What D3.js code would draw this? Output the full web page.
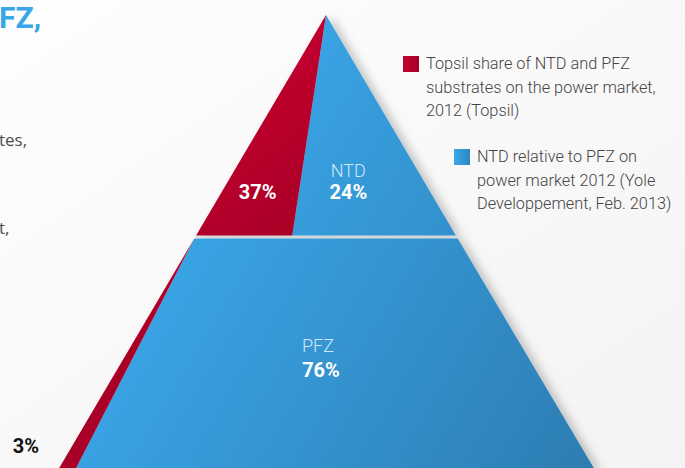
<!DOCTYPE html>
<html>
<head>
<meta charset="utf-8">
<script src="https://cdn.jsdelivr.net/npm/d3@7"></script>
<style>
  html, body { margin: 0; padding: 0; background: #f6f6f6; }
  svg { display: block; }
</style>
</head>
<body>
<div id="chart"></div>
<script>
// market split (share of power market) and Topsil share inside each part
const sections = ['NTD', 'PFZ'];
const marketShare = [24, 76];
const topsilShare = [37, 3];
const legendRed = ['Topsil share of NTD and PFZ', 'substrates on the power market,', '2012 (Topsil)'];
const legendBlue = ['NTD relative to PFZ on', 'power market 2012 (Yole', 'Developpement, Feb. 2013)'];
const sideText = ['FZ,', 'tes,', 't,'];

const W = 685, H = 468;
const apex = {x: 326, y: 15};
const gap = 3;

const svg = d3.select('#chart')
  .append('svg')
  .attr('width', W)
  .attr('height', H);

const defs = svg.append('defs');

const bg = defs.append('linearGradient')
  .attr('id', 'bg').attr('x1', 0).attr('y1', 0).attr('x2', 1).attr('y2', 1);
bg.append('stop').attr('offset', 0).attr('stop-color', '#fefefe');
bg.append('stop').attr('offset', 1).attr('stop-color', '#f3f3f3');

const blue = defs.append('linearGradient')
  .attr('id', 'blue').attr('gradientUnits', 'userSpaceOnUse')
  .attr('x1', 150).attr('y1', 200).attr('x2', 600).attr('y2', 468);
blue.append('stop').attr('offset', 0).attr('stop-color', '#3aa8ea');
blue.append('stop').attr('offset', 1).attr('stop-color', '#2d7cb1');

const red = defs.append('linearGradient')
  .attr('id', 'red').attr('gradientUnits', 'userSpaceOnUse')
  .attr('x1', 190).attr('y1', 100).attr('x2', 300).attr('y2', 240);
red.append('stop').attr('offset', 0).attr('stop-color', '#c4002f');
red.append('stop').attr('offset', 1).attr('stop-color', '#a80027');

const redLegend = defs.append('linearGradient').attr('id', 'redL');
redLegend.append('stop').attr('offset', 0).attr('stop-color', '#c4002f');
redLegend.append('stop').attr('offset', 1).attr('stop-color', '#a30026');
const blueLegend = defs.append('linearGradient').attr('id', 'blueL');
blueLegend.append('stop').attr('offset', 0).attr('stop-color', '#3aa8ea');
blueLegend.append('stop').attr('offset', 1).attr('stop-color', '#2f85c0');

const shadow = defs.append('filter').attr('id', 'shadow')
  .attr('x', '-20%').attr('y', '-20%').attr('width', '140%').attr('height', '140%');
shadow.append('feDropShadow')
  .attr('dx', 6).attr('dy', 2).attr('stdDeviation', 5)
  .attr('flood-color', '#000').attr('flood-opacity', 0.22);

svg.append('rect').attr('width', W).attr('height', H).attr('fill', 'url(#bg)');

// y position of cumulative share, area-true (sqrt) from the apex
const y = d3.scaleSqrt().domain([0, 100]).range([apex.y, 468]);
// half width of the pyramid at a given y
const half = d3.scaleLinear().domain([apex.y, 468]).range([0, 267]);
const xl = yy => apex.x - half(yy);
const xr = yy => apex.x + half(yy);

const cum = d3.cumsum(marketShare);
const yDiv = y(cum[0]);
const yTop = yDiv - gap / 2, yBot = yDiv + gap / 2, yBase = y(cum[1]);

const line = d3.line();
const pyr = svg.append('g').attr('filter', 'url(#shadow)');

// NTD (top triangle)
const sTop = xl(yTop) + topsilShare[0] / 100 * (xr(yTop) - xl(yTop));
pyr.append('path')
  .attr('d', line([[apex.x, apex.y], [sTop, yTop], [xr(yTop), yTop]]) + 'Z')
  .attr('fill', 'url(#blue)');
pyr.append('path')
  .attr('d', line([[apex.x, apex.y], [xl(yTop), yTop], [sTop, yTop]]) + 'Z')
  .attr('fill', 'url(#red)');

// PFZ (lower trapezoid)
const sBot = xl(yBase) + topsilShare[1] / 100 * (xr(yBase) - xl(yBase));
pyr.append('path')
  .attr('d', line([[xl(yBot), yBot], [xr(yBot), yBot], [xr(yBase) + 2, yBase + 2], [sBot, yBase + 2]]) + 'Z')
  .attr('fill', 'url(#blue)');
pyr.append('path')
  .attr('d', line([[xl(yBot), yBot], [sBot, yBase + 2], [xl(yBase) - 1, yBase + 2]]) + 'Z')
  .attr('fill', 'url(#red)');

svg.append('line')
  .attr('x1', xl(yDiv)).attr('x2', xr(yDiv))
  .attr('y1', yDiv).attr('y2', yDiv)
  .attr('stroke', '#d6d8da').attr('stroke-width', 1.5);

// labels
const bold = '"Roboto", sans-serif';
const labY = 199;
const splitAt = yy => apex.x + (sTop - apex.x) * (yy - apex.y) / (yTop - apex.y);

svg.append('text')
  .attr('x', (xl(labY) + splitAt(labY)) / 2).attr('y', labY)
  .attr('text-anchor', 'middle').attr('fill', '#fff')
  .style('font', `bold 20px ${bold}`)
  .text(topsilShare[0] + '%');

const ntdX = splitAt(labY) + 0.37 * (xr(labY) - splitAt(labY));
svg.append('text')
  .attr('x', ntdX).attr('y', labY - 22)
  .attr('text-anchor', 'middle').attr('fill', '#cfe7f8')
  .style('font', `300 18px ${bold}`)
  .text(sections[0]);
svg.append('text')
  .attr('x', ntdX).attr('y', labY)
  .attr('text-anchor', 'middle').attr('fill', '#fff')
  .style('font', `bold 20px ${bold}`)
  .text(marketShare[0] + '%');

svg.append('text')
  .attr('x', apex.x - 8).attr('y', 352)
  .attr('text-anchor', 'middle').attr('fill', '#cfe7f8')
  .style('font', `300 18px ${bold}`)
  .text(sections[1]);
svg.append('text')
  .attr('x', apex.x - 5).attr('y', 377)
  .attr('text-anchor', 'middle').attr('fill', '#fff')
  .style('font', `bold 20px ${bold}`)
  .text(marketShare[1] + '%');

svg.append('text')
  .attr('x', 26).attr('y', 453)
  .attr('text-anchor', 'middle').attr('fill', '#111')
  .style('font', `bold 20px ${bold}`)
  .text(topsilShare[1] + '%');

// legend
function legend(x, yy, fill, lines) {
  const g = svg.append('g').attr('transform', `translate(${x},${yy})`);
  g.append('rect').attr('x', 0).attr('y', 0).attr('width', 16).attr('height', 16).attr('fill', fill);
  g.selectAll('text').data(lines).join('text')
    .attr('x', 23).attr('y', (d, i) => 13 + i * 23.7)
    .attr('fill', '#444')
    .style('font', '300 16.3px "Roboto", sans-serif')
    .text(d => d);
}
legend(403, 56, 'url(#redL)', legendRed);
legend(454, 149, 'url(#blueL)', legendBlue);

// cropped body text on the left
svg.append('text').attr('x', -1).attr('y', 28)
  .attr('fill', '#39a6e8').style('font', 'bold 30px "Roboto", sans-serif')
  .text(sideText[0]);
svg.append('text').attr('x', -1).attr('y', 146)
  .attr('fill', '#4d4d4d').style('font', '17px "Open Sans", sans-serif')
  .text(sideText[1]);
svg.append('text').attr('x', -1).attr('y', 234)
  .attr('fill', '#4d4d4d').style('font', '17px "Open Sans", sans-serif')
  .text(sideText[2]);
</script>
</body>
</html>
